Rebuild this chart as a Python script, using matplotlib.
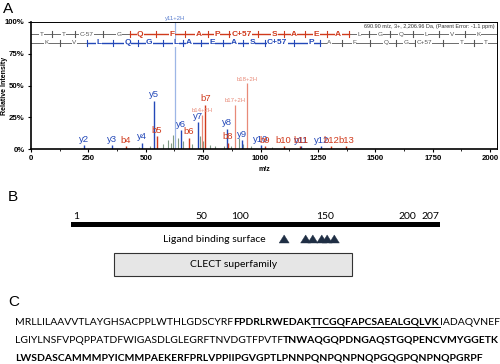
import numpy as np
import matplotlib.pyplot as plt
from matplotlib.patches import Rectangle, Polygon
from matplotlib.lines import Line2D

# ---------------- panel A : MS/MS spectrum ----------------
y_ions = ["y2", "y3", "y4", "y5", "y6", "y7", "y8", "y9", "y10", "y11", "y12"]
y_mz = [230, 352, 482, 537, 652, 726, 852, 918, 1000, 1178, 1265]
y_int = [3, 3, 5, 38, 15, 21, 16, 7, 3, 2, 2]

b_ions = ["b4", "b5", "b6", "b7", "b8", "b9", "b10", "b11", "b12", "b13"]
b_mz = [413, 548, 687, 760, 858, 1020, 1100, 1174, 1308, 1374]
b_int = [2, 10, 9, 35, 5, 2, 2, 2, 2, 2]

b2h_ions = ["b14+2H", "b17+2H", "b18+2H"]
b2h_mz = [745, 890, 943]
b2h_int = [27, 35, 52]

y2h_ion = "y11+2H"
y2h_mz = 626
y2h_int = 100

# unassigned peaks
other_mz = [470, 520, 575, 595, 610, 618, 640, 662, 700, 735, 748, 780, 800, 840, 872, 905, 925, 960, 1050]
other_int = [1.5, 2, 4, 7, 5, 11, 9, 6, 4, 10, 6, 3, 2, 2, 2, 9, 4, 2, 1.5]

# fragment ladders drawn above the spectrum
top_res = ["T", "T", "C-57", "G", "Q", "F", "A", "P", "C+57", "S", "A", "E", "A", "L", "G", "Q", "L", "V", "K"]
top_pos = [46, 141, 241, 385, 476, 616, 729, 811, 916, 1060, 1146, 1244, 1338, 1429, 1520, 1612, 1720, 1834, 1951]
top_hit = (4, 12)   # first/last residue covered by b ions
bot_res = ["K", "V", "L", "Q", "G", "L", "A", "E", "A", "S", "C+57", "P", "A", "F", "Q", "G", "C+57", "T", "T"]
bot_pos = [67, 189, 298, 420, 515, 633, 689, 789, 885, 963, 1072, 1220, 1299, 1407, 1546, 1633, 1712, 1877, 1981]
bot_hit = (2, 11)   # covered by y ions

precursor = "690.90 m/z, 3+, 2,206.96 Da, (Parent Error: -1.1 ppm)"

# ---------------- panel B : domain map ----------------
seq_len = 207
bar_ticks = ["1", "50", "100", "150", "200", "207"]
ligand_sites = [120, 132, 136, 141, 144, 148]
clect_range = (25, 158)

# ---------------- panel C : sequence ----------------
# (text, bold, underline)
seq_lines = [
    [("MRLLILAAVVTLAYGHSACPPLWTHLGDSCYRF", False, False),
     ("FPDRLRWEDAK", True, False),
     ("TTCGQFAPCSAEALGQLVK", True, True),
     ("IADAQVNEF", False, False)],
    [("LGIYLNSFVPQPPATDFWIGASDLGLEGRFTNVDGTFPVTF", False, False),
     ("TNWAQGQPDNGAQSTGQPENCVMYGGETK", True, False)],
    [("LWSDASCAMMMPYICMMPAEKERFPRLVPPIIPGVGPTLPNNPQNPQNPNQPGQGPQNPNQPGRPF", True, False)],
]

BLUE = "#2348b8"
RED = "#d03a1c"
LRED = "#e88a78"
LBLUE = "#9db6e6"
GREY = "#555555"
ARIAL = "Liberation Sans"
CALIBRI = "Lato"

W, H = 500, 364
fig = plt.figure(figsize=(W / 100, H / 100), dpi=100)


def fx(px):
    return px / W


def fy(py):
    return 1 - py / H


# spectrum axes
ax = fig.add_axes([fx(31), fy(149), fx(466), 127 / H])
ax.set_xlim(0, 2030)
ax.set_ylim(0, 100)

ax.vlines(other_mz, 0, other_int, color="#7f9a84", lw=0.8)
ax.vlines([y2h_mz], 0, [y2h_int], color=LBLUE, lw=0.9)
ax.vlines(b2h_mz, 0, b2h_int, color=LRED, lw=0.9)
ax.vlines(y_mz, 0, y_int, color=BLUE, lw=1.0)
ax.vlines(b_mz, 0, b_int, color=RED, lw=1.0)

for lab, m, v in zip(y_ions, y_mz, y_int):
    ax.text(m, v + 1, lab, color=BLUE, fontsize=6.8, family=ARIAL, ha="center", va="bottom")
for lab, m, v in zip(b_ions, b_mz, b_int):
    ax.text(m, v + 1, lab, color=RED, fontsize=6.8, family=ARIAL, ha="center", va="bottom")
for lab, m, v in zip(b2h_ions, b2h_mz, b2h_int):
    ax.text(m, v + 1, lab, color=LRED, fontsize=4.3, family=ARIAL, ha="center", va="bottom")
ax.text(y2h_mz, y2h_int + 1, y2h_ion, color="#5a7fcf", fontsize=4.3, family=ARIAL,
        ha="center", va="bottom", clip_on=False)


def ladder(res, pos, hit, yv, col):
    lo, hi = hit
    mids = [(a + b) / 2 for a, b in zip(pos[:-1], pos[1:])]
    ax.plot([0, 2030], [yv, yv], color=GREY, lw=0.6, zorder=2)
    ax.plot([mids[lo - 1], mids[hi]], [yv, yv], color=col, lw=1.0, zorder=3)
    for i, m in enumerate(mids):
        c = col if lo - 1 <= i <= hi else GREY
        ax.plot([m, m], [yv - 2.5, yv + 2.5], color=c, lw=0.8, zorder=3)
    for i, (r, p) in enumerate(zip(res, pos)):
        on = lo <= i <= hi
        ax.text(p, yv, r, color=col if on else GREY, fontsize=6 if on else 4.6,
                family=ARIAL, fontweight="bold" if on else "normal", ha="center", va="center",
                zorder=4, bbox=dict(facecolor="white", edgecolor="none", pad=0.3))


ladder(top_res, top_pos, top_hit, 90.5, RED)
ladder(bot_res, bot_pos, bot_hit, 83.5, BLUE)

ax.text(0.995, 0.985, precursor, transform=ax.transAxes, fontsize=4, family=ARIAL,
        ha="right", va="top", color="#333333")

ax.set_xticks(np.arange(0, 2001, 250))
ax.set_xticks(np.arange(0, 2001, 125), minor=True)
ax.set_yticks([0, 25, 50, 75, 100])
ax.set_yticklabels(["0%", "25%", "50%", "75%", "100%"])
for lab in ax.get_xticklabels() + ax.get_yticklabels():
    lab.set_family(ARIAL)
    lab.set_fontweight("bold")
    lab.set_fontsize(5.6)
ax.tick_params(length=2.5, width=0.8, pad=2)
ax.tick_params(which="minor", length=1.5, width=0.6)
ax.set_xlabel("m/z", fontsize=5, family=ARIAL, fontweight="bold", labelpad=3)
fig.text(fx(5), fy(86), "Relative Intensity", fontsize=5, family=ARIAL, fontweight="bold",
         rotation=90, ha="center", va="center")
for s in ["left", "bottom"]:
    ax.spines[s].set_linewidth(1.2)
for s in ["top", "right"]:
    ax.spines[s].set_linewidth(0.7)

fig.text(fx(3), fy(2), "A", fontsize=11, family=ARIAL, ha="left", va="top")

# ---------------- panel B ----------------
axb = fig.add_axes([fx(71), fy(280), fx(369), 80 / H])
axb.set_xlim(1, seq_len)
axb.set_ylim(80, 0)
axb.axis("off")
axb.add_patch(Rectangle((1, 22), seq_len - 1, 5, color="black", lw=0))
tick_px = [76, 201, 240, 325, 407, 430]
for lab, px in zip(bar_ticks, tick_px):
    fig.text(fx(px), fy(219), lab, fontsize=7.5, family=CALIBRI, ha="center", va="baseline")
for s in ligand_sites:
    axb.add_patch(Polygon([[s - 2.8, 43], [s + 2.8, 43], [s, 35]], closed=True,
                          facecolor="#1f2e44", edgecolor="#1f2e44", lw=0.3))
fig.text(fx(266), fy(240), "Ligand binding surface", fontsize=7.5, family=CALIBRI,
         ha="right", va="center")
axb.add_patch(Rectangle((clect_range[0], 53), clect_range[1] - clect_range[0], 23,
                        facecolor="#e6e6e6", edgecolor="#333333", lw=0.8))
axb.text(sum(clect_range) / 2, 64.5, "CLECT superfamily", fontsize=7.5, family=CALIBRI,
         ha="center", va="center")
fig.text(fx(8), fy(197), "B", fontsize=11, family=ARIAL, ha="left", va="center")

# ---------------- panel C ----------------
fig.text(fx(8), fy(302), "C", fontsize=11, family=ARIAL, ha="left", va="center")
renderer = fig.canvas.get_renderer()
w_probe = 0
for txt, bold, _ in seq_lines[0]:
    probe = fig.text(0, 0, txt, fontsize=10, family=CALIBRI,
                     fontweight="bold" if bold else "normal")
    w_probe += probe.get_window_extent(renderer).width
    probe.remove()
seq_fs = 10 * 480 / w_probe
line_y = [325, 343, 361]
for parts, py in zip(seq_lines, line_y):
    x = 15
    for txt, bold, under in parts:
        t = fig.text(fx(x), fy(py), txt, fontsize=seq_fs, family=CALIBRI,
                     fontweight="bold" if bold else "normal", va="baseline", ha="left")
        w = t.get_window_extent(renderer).width
        if under:
            fig.add_artist(Line2D([fx(x), fx(x + w)], [fy(py + 1.5), fy(py + 1.5)],
                                  color="black", lw=0.7))
        x += w

fig.savefig("out.png", dpi=100)
